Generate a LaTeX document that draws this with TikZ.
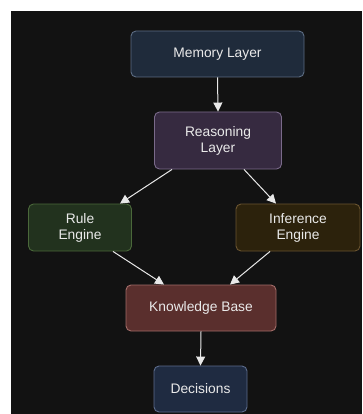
\documentclass[tikz,border=0pt]{standalone}
\usepackage{fontspec}
\setmainfont{Liberation Sans}
\usetikzlibrary{arrows.meta}
\definecolor{pagebg}{HTML}{121212}
\definecolor{txt}{HTML}{EAEAEA}
\definecolor{edge}{HTML}{E8E8E8}
\definecolor{memfill}{HTML}{1F2B3B}\definecolor{memline}{HTML}{5C6C82}
\definecolor{reafill}{HTML}{362A40}\definecolor{realine}{HTML}{7A6A8A}
\definecolor{rulfill}{HTML}{22321E}\definecolor{rulline}{HTML}{4A683A}
\definecolor{inffill}{HTML}{2C220C}\definecolor{infline}{HTML}{6A5430}
\definecolor{kbfill}{HTML}{5A2F2D}\definecolor{kbline}{HTML}{A26C68}
\definecolor{decfill}{HTML}{1F2B41}\definecolor{decline}{HTML}{5C6C8C}
\tikzset{
  x=1pt, y=-1pt,
  box/.style={rounded corners=5pt, line width=0.9pt, text=txt, align=center,
    font=\fontsize{13.8}{16}\selectfont, inner sep=0pt},
  flow/.style={draw=edge, line width=1pt, -{Triangle[length=9pt,width=9pt]}}
}
\begin{document}
\begin{tikzpicture}
  % page and dark canvas
  \fill[white] (0,0) rectangle (362,414);
  \fill[pagebg] (11,11) rectangle (362,414);
  \useasboundingbox (0,0) rectangle (362,414);

  \node[box, fill=memfill, draw=memline, minimum width=173pt, minimum height=46pt] (mem) at (217.5,54) {Memory Layer};
  \node[box, fill=reafill, draw=realine, minimum width=127pt, minimum height=57pt] (rea) at (218,140.5) {Reasoning\\Layer};
  \node[box, fill=rulfill, draw=rulline, minimum width=103pt, minimum height=47pt] (rul) at (80,227.5) {Rule\\Engine};
  \node[box, fill=inffill, draw=infline, minimum width=124pt, minimum height=47pt] (inf) at (298,227.5) {Inference\\Engine};
  \node[box, fill=kbfill, draw=kbline, minimum width=150pt, minimum height=46pt] (kb) at (201,308) {Knowledge Base};
  \node[box, fill=decfill, draw=decline, minimum width=93pt, minimum height=46pt] (dec) at (200.5,389) {Decisions};

  \draw[flow] (mem.south) -- (rea.north);
  \draw[flow] ([xshift=-46pt]rea.south) -- ([xshift=40pt]rul.north);
  \draw[flow] ([xshift=26pt]rea.south) -- ([xshift=-22pt]inf.north);
  \draw[flow] ([xshift=33pt]rul.south) -- ([xshift=-37pt]kb.north);
  \draw[flow] ([xshift=-28pt]inf.south) -- ([xshift=29pt]kb.north);
  \draw[flow] (kb.south) -- (dec.north);
\end{tikzpicture}
\end{document}
